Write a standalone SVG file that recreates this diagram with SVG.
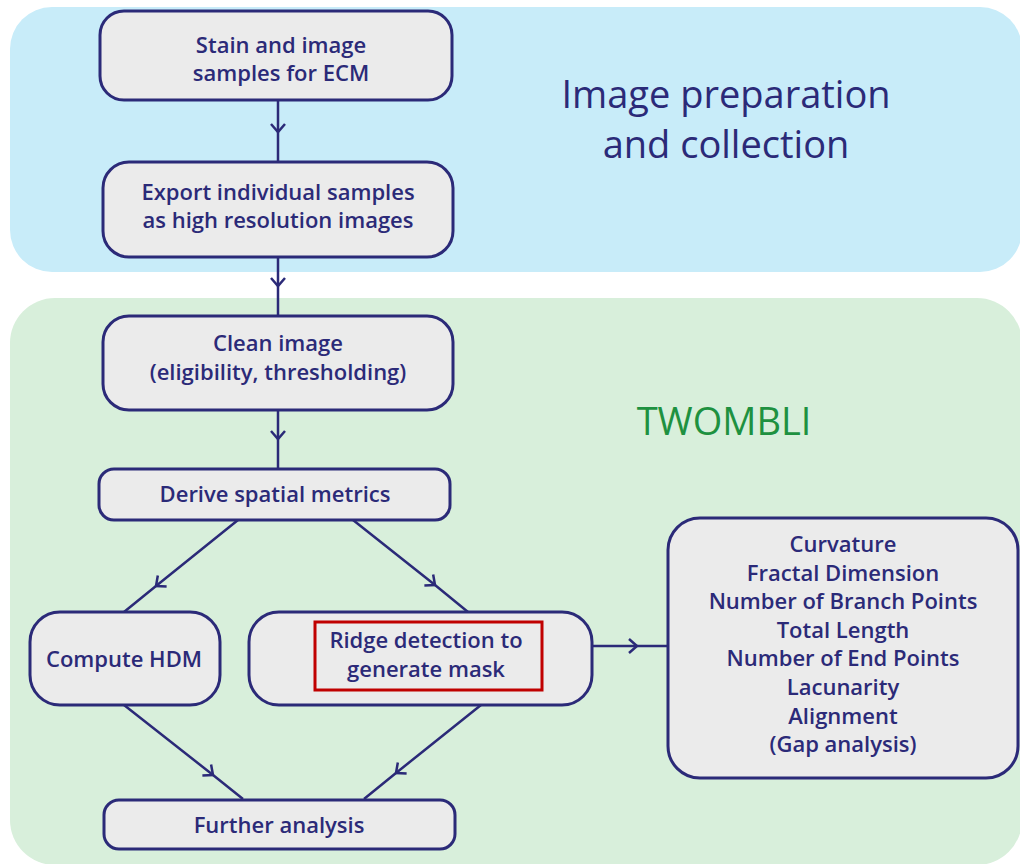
<svg xmlns="http://www.w3.org/2000/svg" width="1020" height="864" viewBox="0 0 1020 864">
<style>
.node{fill:#ebebeb;stroke:#2b2a78;stroke-width:3}
.t{font-family:"Open Sans","Liberation Sans",sans-serif;font-weight:600;font-size:22px;fill:#2b2a78;text-anchor:middle}
.title{font-family:"Open Sans","Liberation Sans",sans-serif;font-size:38px;fill:#2b2a78;text-anchor:middle}
.green{font-family:"Open Sans","Liberation Sans",sans-serif;font-size:38px;fill:#1e9140;text-anchor:middle}
.c{fill:none;stroke:#2b2a78;stroke-width:2.5}
</style>
<defs>
<marker id="chev" markerUnits="userSpaceOnUse" markerWidth="24" markerHeight="24" viewBox="-12 -12 24 24" refX="0" refY="0" orient="auto">
<path d="M-8,-7 L0,0 L-8,7" fill="none" stroke="#2b2a78" stroke-width="2.5"/>
</marker>
</defs>
<rect width="1020" height="864" fill="#ffffff"/>
<g id="region-prep">
<rect x="10" y="7" width="1012" height="265" rx="42" fill="#c8ecf9"/>
<text class="title" x="726" y="108">Image preparation</text>
<text class="title" x="726" y="158">and collection</text>
</g>
<g id="region-twombli">
<rect x="10" y="298" width="1012" height="567" rx="45" fill="#d8efdb"/>
<text class="green" x="724" y="435">TWOMBLI</text>
</g>
<g id="connectors">
<path class="c" d="M278,100 L278,132 L278,162" marker-mid="url(#chev)"/>
<path class="c" d="M278,257 L278,286 L278,315" marker-mid="url(#chev)"/>
<path class="c" d="M278,410 L278,439 L278,468" marker-mid="url(#chev)"/>
<path class="c" d="M238,520 L156,586 L124,612" marker-mid="url(#chev)"/>
<path class="c" d="M353,520 L435,585 L468,612" marker-mid="url(#chev)"/>
<path class="c" d="M124,705 L213,775 L243,799" marker-mid="url(#chev)"/>
<path class="c" d="M481,705 L396,773 L364,799" marker-mid="url(#chev)"/>
<path class="c" d="M592,646 L637,646 L668,646" marker-mid="url(#chev)"/>
</g>
<g id="n-stain">
<rect class="node" x="100" y="11" width="352" height="89" rx="24"/>
<text class="t" x="281" y="53">Stain and image</text>
<text class="t" x="281" y="81">samples for ECM</text>
</g>
<g id="n-export">
<rect class="node" x="103" y="162" width="350" height="95" rx="26"/>
<text class="t" x="278" y="200">Export individual samples</text>
<text class="t" x="278" y="228">as high resolution images</text>
</g>
<g id="n-clean">
<rect class="node" x="103" y="316" width="350" height="94" rx="26"/>
<text class="t" x="278" y="351">Clean image</text>
<text class="t" x="278" y="380">(eligibility, thresholding)</text>
</g>
<g id="n-derive">
<rect class="node" x="99" y="469" width="351" height="51" rx="15"/>
<text class="t" x="275" y="502">Derive spatial metrics</text>
</g>
<g id="n-hdm">
<rect class="node" x="30" y="612" width="190" height="93" rx="30"/>
<text class="t" x="124" y="667">Compute HDM</text>
</g>
<g id="n-ridge">
<rect class="node" x="249" y="612" width="343" height="93" rx="30"/>
<rect x="315" y="622" width="227" height="68" fill="none" stroke="#c00000" stroke-width="3"/>
<text class="t" x="426" y="648">Ridge detection to</text>
<text class="t" x="426" y="677">generate mask</text>
</g>
<g id="n-metrics">
<rect class="node" x="668" y="518" width="350" height="260" rx="32"/>
<text class="t" x="843" y="552">Curvature</text>
<text class="t" x="843" y="580.6">Fractal Dimension</text>
<text class="t" x="843" y="609.2">Number of Branch Points</text>
<text class="t" x="843" y="637.8">Total Length</text>
<text class="t" x="843" y="666.4">Number of End Points</text>
<text class="t" x="843" y="695">Lacunarity</text>
<text class="t" x="843" y="723.6">Alignment</text>
<text class="t" x="843" y="752.2">(Gap analysis)</text>
</g>
<g id="n-further">
<rect class="node" x="104" y="800" width="351" height="49" rx="15"/>
<text class="t" x="279" y="833">Further analysis</text>
</g>
</svg>
